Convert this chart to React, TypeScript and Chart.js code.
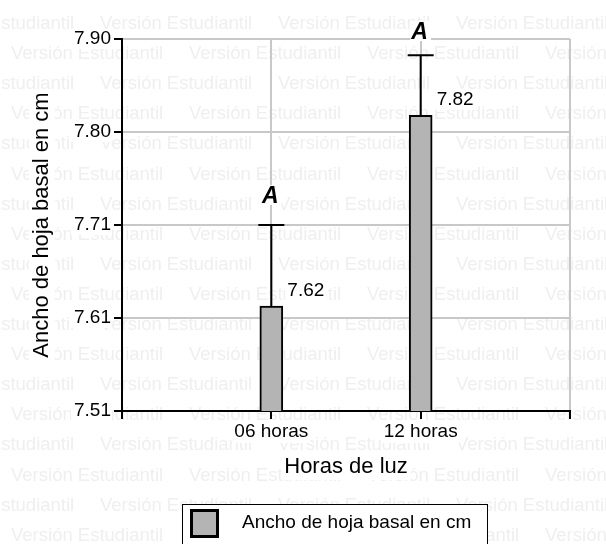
import React, { useEffect, useRef } from "react";
import { Chart, registerables } from "chart.js";

Chart.register(...registerables);

const categories = ["06 horas", "12 horas"];
const means = [7.62, 7.82];
const errorTops = [7.705, 7.883];
const letters = ["A", "A"];
const valueLabels = ["7.62", "7.82"];
const yTickLabels = ["7.51", "7.61", "7.71", "7.80", "7.90"];
const yMin = 7.51;
const yMax = 7.9;
const seriesName = "Ancho de hoja basal en cm";
const xTitle = "Horas de luz";
const yTitle = "Ancho de hoja basal en cm";
const watermark = "Versión Estudiantil";

const FONT = "'Liberation Sans', Arial, sans-serif";

export default function App() {
  const ref = useRef<HTMLCanvasElement | null>(null);

  useEffect(() => {
    document.body.style.margin = "0";
    const canvas = ref.current;
    if (!canvas) return;

    const bgPlugin = {
      id: "bgWatermark",
      beforeDraw(chart: any) {
        const ctx = chart.ctx as CanvasRenderingContext2D;
        ctx.save();
        ctx.fillStyle = "#ffffff";
        ctx.fillRect(0, 0, chart.width, chart.height);
        ctx.font = `18.5px ${FONT}`;
        ctx.fillStyle = "#efefef";
        ctx.textBaseline = "middle";
        ctx.textAlign = "left";
        for (let r = 0; r < 19; r++) {
          const y = 24 + 30.1 * r;
          const x0 = r % 2 === 0 ? -78 : 11;
          for (let x = x0; x < chart.width; x += 178) {
            ctx.fillText(watermark, x, y);
          }
        }
        // white boxes behind tick labels
        ctx.fillStyle = "#ffffff";
        ctx.font = `19px ${FONT}`;
        const ys = chart.scales.y;
        ys.ticks.forEach((t: any, i: number) => {
          const py = ys.getPixelForValue(t.value);
          const w = ctx.measureText(yTickLabels[i] || "").width;
          ctx.fillRect(110 - w - 2, py - 10, w + 4, 20);
        });
        const xs = chart.scales.x;
        categories.forEach((c, i) => {
          const px = xs.getPixelForValue(i + 1);
          const w = ctx.measureText(c).width;
          ctx.fillRect(px - w / 2 - 2, 422, w + 4, 21);
        });
        ctx.restore();
      },
      afterDraw(chart: any) {
        const ctx = chart.ctx as CanvasRenderingContext2D;
        const xs = chart.scales.x;
        const ys = chart.scales.y;
        const area = chart.chartArea;
        ctx.save();
        // error bars, letters, value labels
        means.forEach((m, i) => {
          const px = xs.getPixelForValue(i + 1);
          const pTop = ys.getPixelForValue(m);
          const pErr = ys.getPixelForValue(errorTops[i]);
          ctx.strokeStyle = "#000";
          ctx.lineWidth = 2;
          ctx.beginPath();
          ctx.moveTo(px, pTop);
          ctx.lineTo(px, pErr);
          ctx.moveTo(px - 13, pErr);
          ctx.lineTo(px + 13, pErr);
          ctx.stroke();

          // letter
          ctx.font = `italic bold 23px ${FONT}`;
          ctx.textAlign = "center";
          ctx.textBaseline = "alphabetic";
          const lb = Math.max(pErr - 22, area.top);
          const lw = ctx.measureText(letters[i]).width;
          ctx.fillStyle = "#fff";
          ctx.fillRect(px - lw / 2 - 2, lb - 18, lw + 4, 20);
          ctx.fillStyle = "#000";
          ctx.fillText(letters[i], px - 1, lb);

          // value label
          ctx.font = `19px ${FONT}`;
          ctx.textAlign = "left";
          ctx.textBaseline = "middle";
          const vx = px + 11.5 + 4.5;
          const vy = pTop - 15.5;
          const vw = ctx.measureText(valueLabels[i]).width;
          ctx.fillStyle = "#fff";
          ctx.fillRect(vx - 2, vy - 10, vw + 4, 20);
          ctx.fillStyle = "#000";
          ctx.fillText(valueLabels[i], vx, vy);
        });

        // x title
        ctx.font = `22px ${FONT}`;
        ctx.textAlign = "center";
        ctx.textBaseline = "middle";
        const cx = (area.left + area.right) / 2;
        const xtW = ctx.measureText(xTitle).width;
        ctx.fillStyle = "#fff";
        ctx.fillRect(cx - xtW / 2 - 3, 454, xtW + 6, 26);
        ctx.fillStyle = "#000";
        ctx.fillText(xTitle, cx, 467);

        // y title
        const cy = (area.top + area.bottom) / 2;
        ctx.save();
        ctx.translate(42, cy);
        ctx.rotate(-Math.PI / 2);
        const ytW = ctx.measureText(yTitle).width;
        ctx.fillStyle = "#fff";
        ctx.fillRect(-ytW / 2 - 3, -13, ytW + 6, 26);
        ctx.fillStyle = "#000";
        ctx.fillText(yTitle, 0, 0);
        ctx.restore();

        // legend
        ctx.fillStyle = "#fff";
        ctx.fillRect(182, 504, 305, 60);
        ctx.strokeStyle = "#000";
        ctx.lineWidth = 1;
        ctx.strokeRect(182.5, 504.5, 305, 60);
        ctx.fillStyle = "#b4b4b4";
        ctx.fillRect(191, 510, 27, 26);
        ctx.lineWidth = 3;
        ctx.strokeRect(191.5, 510.5, 26, 26);
        ctx.fillStyle = "#000";
        ctx.font = `19px ${FONT}`;
        ctx.textAlign = "left";
        ctx.textBaseline = "middle";
        ctx.fillText(seriesName, 242, 523);
        ctx.restore();
      },
    };

    const chart = new Chart(canvas, {
      type: "bar",
      data: {
        datasets: [
          {
            label: seriesName,
            data: means.map((v, i) => ({ x: i + 1, y: v })),
            backgroundColor: "#b4b4b4",
            borderColor: "#000",
            borderWidth: 2,
            borderSkipped: "bottom",
            barThickness: 23,
          } as any,
        ],
      },
      options: {
        responsive: false,
        animation: false,
        layout: { padding: { left: 0, top: 39, right: 36, bottom: 0 } },
        plugins: {
          legend: { display: false },
          tooltip: { enabled: false },
        },
        scales: {
          x: {
            type: "linear",
            min: 0,
            max: 3,
            offset: false,
            afterBuildTicks(scale: any) {
              scale.ticks = [0, 1, 2, 3].map((v) => ({ value: v }));
            },
            afterFit(scale: any) {
              scale.height = 133;
            },
            ticks: {
              callback: (v: any) => categories[Number(v) - 1] ?? "",
              font: { family: FONT, size: 19 },
              color: "#000",
              padding: 1,
              maxRotation: 0,
              autoSkip: false,
            },
            grid: {
              offset: false,
              color: "#c8c8c8",
              lineWidth: 2,
              tickColor: "#000",
              tickLength: 8,
              tickWidth: 2,
            },
            border: { color: "#000", width: 2 },
          },
          y: {
            type: "linear",
            min: yMin,
            max: yMax,
            afterBuildTicks(scale: any) {
              scale.ticks = yTickLabels.map((_, i) => ({
                value: yMin + (i * (yMax - yMin)) / (yTickLabels.length - 1),
              }));
            },
            afterFit(scale: any) {
              scale.width = 122;
            },
            ticks: {
              callback: (_v: any, i: number) => yTickLabels[i],
              font: { family: FONT, size: 19 },
              color: "#000",
              padding: 3,
              autoSkip: false,
            },
            grid: {
              color: "#c8c8c8",
              lineWidth: 2,
              tickColor: "#000",
              tickLength: 8,
              tickWidth: 2,
            },
            border: { color: "#000", width: 2 },
          },
        },
      },
      plugins: [bgPlugin],
    });

    return () => chart.destroy();
  }, []);

  return (
    <div style={{ width: 606, height: 544, position: "relative" }}>
      <canvas ref={ref} width={606} height={544} />
    </div>
  );
}
